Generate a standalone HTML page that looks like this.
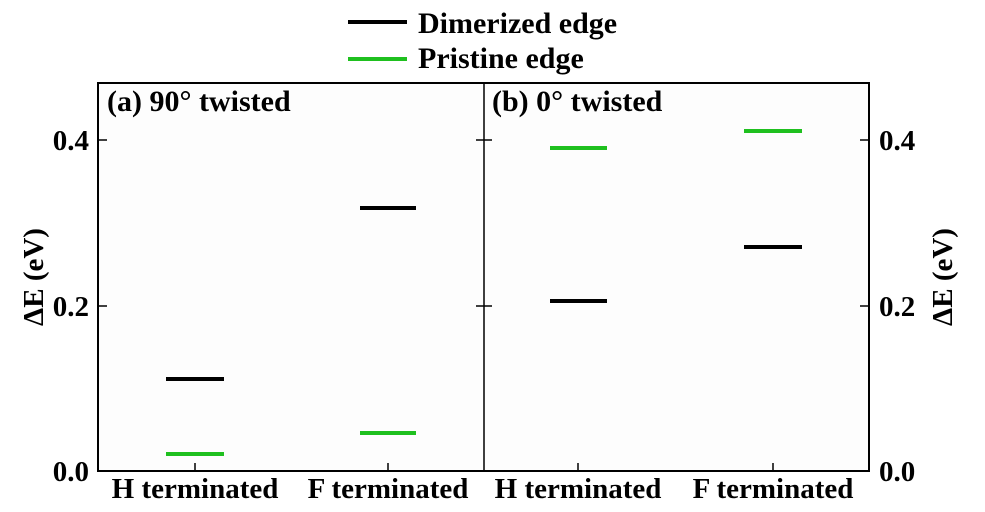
<!DOCTYPE html>
<html><head><meta charset="utf-8"><style>
html,body{margin:0;padding:0;background:#fff;}
svg{display:block;}
text{font-family:"Liberation Serif",serif;font-weight:bold;fill:#000;}
</style></head><body>
<svg width="985" height="512" viewBox="0 0 985 512">
<rect x="98" y="83" width="771" height="388" fill="#fdfdfd"/>
<!-- legend -->
<line x1="348" y1="22" x2="407" y2="22" stroke="#000" stroke-width="4"/>
<text x="418" y="33" font-size="30">Dimerized edge</text>
<line x1="348" y1="59" x2="407" y2="59" stroke="#1fc01f" stroke-width="4"/>
<text x="418" y="68" font-size="30">Pristine edge</text>
<!-- frame -->
<rect x="98" y="83" width="771" height="388" fill="none" stroke="#000" stroke-width="2"/>
<line x1="484" y1="83" x2="484" y2="471" stroke="#000" stroke-width="1.5"/>
<!-- ticks -->
<g stroke="#000" stroke-width="1.5">
<line x1="98" y1="140" x2="107" y2="140"/><line x1="98" y1="306" x2="107" y2="306"/>
<line x1="476" y1="140" x2="492" y2="140"/><line x1="476" y1="306" x2="492" y2="306"/>
<line x1="860" y1="140" x2="869" y2="140"/><line x1="860" y1="306" x2="869" y2="306"/>
<line x1="195" y1="471" x2="195" y2="463"/><line x1="388" y1="471" x2="388" y2="463"/>
<line x1="578" y1="471" x2="578" y2="463"/><line x1="773" y1="471" x2="773" y2="463"/>
</g>
<!-- tick labels -->
<g font-size="29" text-anchor="end">
<text x="89" y="150">0.4</text><text x="89" y="316">0.2</text><text x="89" y="481">0.0</text>
</g>
<g font-size="29" text-anchor="start">
<text x="879" y="150">0.4</text><text x="879" y="316">0.2</text><text x="879" y="481">0.0</text>
</g>
<text font-size="29" text-anchor="middle" transform="translate(43,277) rotate(-90)">ΔE (eV)</text>
<text font-size="29" text-anchor="middle" transform="translate(952,277) rotate(-90)">ΔE (eV)</text>
<g font-size="29" text-anchor="middle">
<text x="195" y="498">H terminated</text><text x="388" y="498">F terminated</text>
<text x="578" y="498">H terminated</text><text x="773" y="498">F terminated</text>
</g>
<text x="107" y="111" font-size="30">(a) 90° twisted</text>
<text x="492" y="111" font-size="30">(b) 0° twisted</text>
<!-- bars -->
<g stroke-width="4">
<line x1="166" y1="379" x2="224" y2="379" stroke="#000"/>
<line x1="166" y1="454" x2="224" y2="454" stroke="#1fc01f"/>
<line x1="360" y1="208" x2="416" y2="208" stroke="#000"/>
<line x1="360" y1="433" x2="416" y2="433" stroke="#1fc01f"/>
<line x1="550" y1="148" x2="607" y2="148" stroke="#1fc01f"/>
<line x1="550" y1="301" x2="607" y2="301" stroke="#000"/>
<line x1="744" y1="131" x2="802" y2="131" stroke="#1fc01f"/>
<line x1="744" y1="247" x2="802" y2="247" stroke="#000"/>
</g>
</svg>
</body></html>
